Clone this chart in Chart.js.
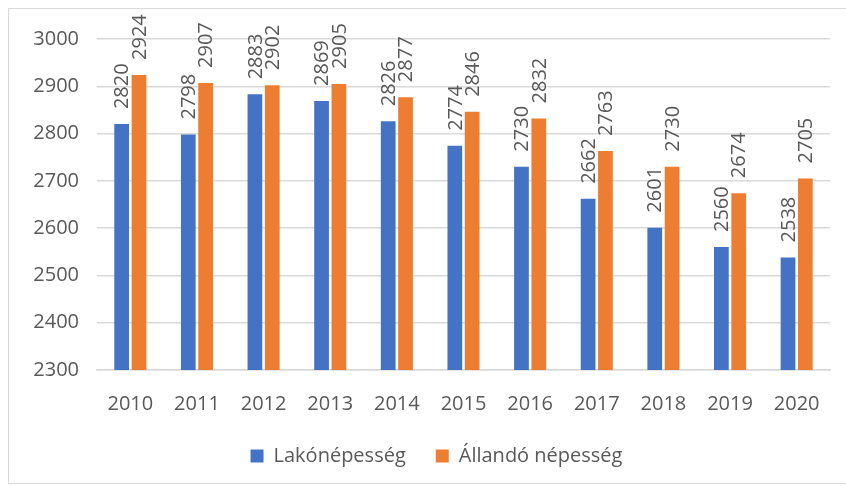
<!DOCTYPE html>
<html>
<head>
<meta charset="utf-8">
<script src="https://cdn.jsdelivr.net/npm/chart.js@4"></script>
<style>
  body { margin: 0; background: #fff; }
  #frame { position: absolute; left: 8px; top: 8px; width: 846px; height: 474px; border: 1px solid #d9d9d9; }
  #chart { position: absolute; left: 0; top: 0; }
</style>
</head>
<body>
<div id="frame"><canvas id="chart" width="838" height="474"></canvas></div>
<script>
const years = ['2010', '2011', '2012', '2013', '2014', '2015', '2016', '2017', '2018', '2019', '2020'];
const lakonepesseg = [2820, 2798, 2883, 2869, 2826, 2774, 2730, 2662, 2601, 2560, 2538];
const allandoNepesseg = [2924, 2907, 2902, 2905, 2877, 2846, 2832, 2763, 2730, 2674, 2705];

const FONT = '"Open Sans", sans-serif';
const TEXT = '#595959';

// vertical value labels above each bar
const barLabels = {
    id: 'barLabels',
    afterDatasetsDraw(chart) {
        const ctx = chart.ctx;
        ctx.save();
        ctx.font = '20px ' + FONT;
        ctx.fillStyle = TEXT;
        ctx.textAlign = 'left';
        ctx.textBaseline = 'middle';
        chart.data.datasets.forEach((ds, i) => {
            chart.getDatasetMeta(i).data.forEach((bar, j) => {
                ctx.save();
                ctx.translate(bar.x, bar.y - 15);
                ctx.rotate(-Math.PI / 2);
                ctx.fillText(ds.data[j], 0, 1);
                ctx.restore();
            });
        });
        ctx.restore();
    }
};

// nudge the legend a bit right, it sits centred under the plot in the original
const legendShift = {
    id: 'legendShift',
    afterLayout(chart) {
        chart.legend.left += 17;
        chart.legend.right += 17;
    }
};

new Chart(document.getElementById('chart'), {
    type: 'bar',
    data: {
        labels: years,
        datasets: [
            { label: 'Lakónépesség', data: lakonepesseg, backgroundColor: '#4472c4' },
            { label: 'Állandó népesség', data: allandoNepesseg, backgroundColor: '#ed7d31' }
        ]
    },
    options: {
        responsive: false,
        animation: false,
        categoryPercentage: 0.52,
        barPercentage: 0.85,
        layout: { padding: { top: 28, right: 17, left: 0, bottom: 7 } },
        plugins: {
            tooltip: { enabled: false },
            legend: {
                position: 'bottom',
                labels: {
                    color: TEXT,
                    font: { family: FONT, size: 20 },
                    boxWidth: 13,
                    boxHeight: 13,
                    padding: 30
                }
            }
        },
        scales: {
            x: {
                grid: { display: false },
                border: { color: '#d9d9d9', width: 1.5 },
                ticks: { color: TEXT, font: { family: FONT, size: 20 }, padding: 14 },
                afterFit(scale) { scale.height = 46; }
            },
            y: {
                min: 2300,
                max: 3000,
                grid: { color: '#d9d9d9', lineWidth: 1.5, drawTicks: false },
                border: { display: false },
                ticks: {
                    stepSize: 100,
                    color: TEXT,
                    font: { family: FONT, size: 20 },
                    padding: 18,
                    callback: v => String(v)
                },
                afterFit(scale) { scale.width = 88; }
            }
        }
    },
    plugins: [barLabels, legendShift]
});
</script>
</body>
</html>
